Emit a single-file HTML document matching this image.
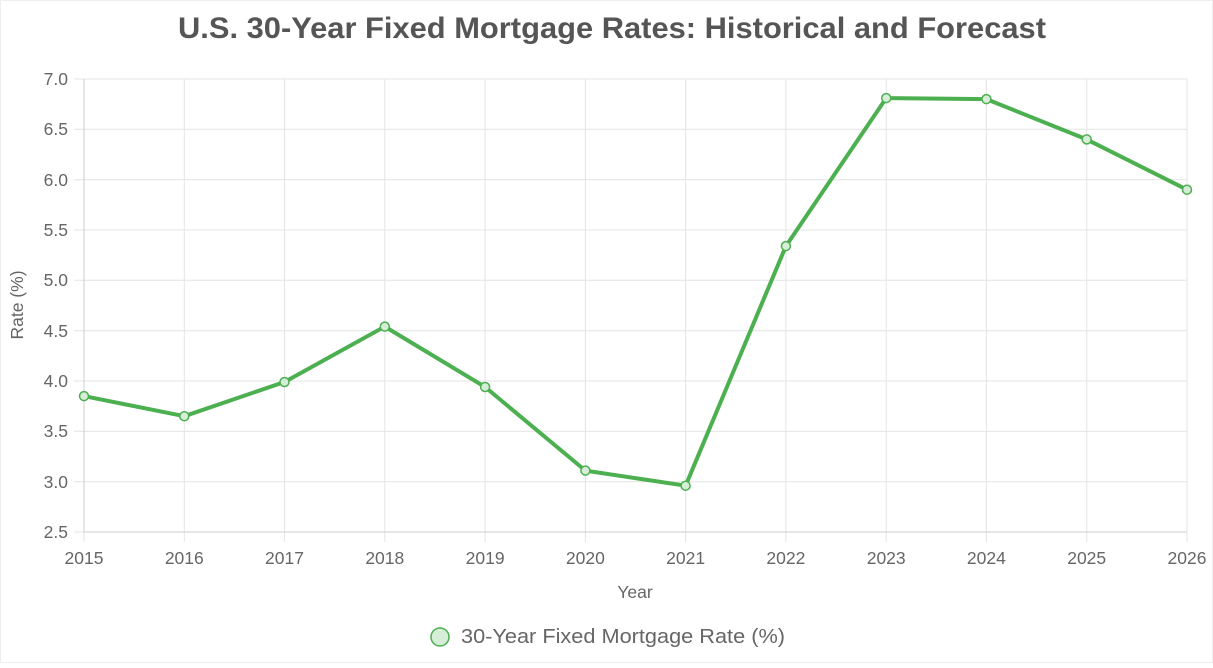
<!DOCTYPE html>
<html><head><style>
html,body{margin:0;padding:0;background:#fff;}
body{width:1213px;height:663px;overflow:hidden;font-family:"Liberation Sans",sans-serif;}
</style></head><body>
<svg width="1213" height="663" xmlns="http://www.w3.org/2000/svg" font-family="Liberation Sans, sans-serif">
<rect x="0.5" y="0.5" width="1212" height="662" fill="#fff" stroke="#eee"/>
<text x="612" y="38" text-anchor="middle" font-size="30" font-weight="bold" fill="#555" textLength="868" lengthAdjust="spacingAndGlyphs">U.S. 30-Year Fixed Mortgage Rates: Historical and Forecast</text>
<g stroke="#e4e4e4" stroke-width="1">
<line x1="74" x2="1187" y1="79" y2="79"/><line x1="74" x2="1187" y1="129.3" y2="129.3"/>
<line x1="74" x2="1187" y1="179.7" y2="179.7"/><line x1="74" x2="1187" y1="230" y2="230"/>
<line x1="74" x2="1187" y1="280.3" y2="280.3"/><line x1="74" x2="1187" y1="330.7" y2="330.7"/>
<line x1="74" x2="1187" y1="381" y2="381"/><line x1="74" x2="1187" y1="431.3" y2="431.3"/>
<line x1="74" x2="1187" y1="481.7" y2="481.7"/><line x1="74" x2="1187" y1="532" y2="532"/>
<line x1="84" x2="84" y1="79" y2="542"/><line x1="184.3" x2="184.3" y1="79" y2="542"/>
<line x1="284.5" x2="284.5" y1="79" y2="542"/><line x1="384.8" x2="384.8" y1="79" y2="542"/>
<line x1="485.1" x2="485.1" y1="79" y2="542"/><line x1="585.4" x2="585.4" y1="79" y2="542"/>
<line x1="685.6" x2="685.6" y1="79" y2="542"/><line x1="785.9" x2="785.9" y1="79" y2="542"/>
<line x1="886.2" x2="886.2" y1="79" y2="542"/><line x1="986.4" x2="986.4" y1="79" y2="542"/>
<line x1="1086.7" x2="1086.7" y1="79" y2="542"/><line x1="1187" x2="1187" y1="79" y2="542"/>
</g>
<line x1="84" x2="84" y1="79" y2="532" stroke="#ccc"/>
<line x1="84" x2="1187" y1="532" y2="532" stroke="#ccc"/>
<g font-size="17.5" fill="#666" text-anchor="end">
<text x="68" y="85">7.0</text><text x="68" y="135">6.5</text><text x="68" y="186">6.0</text>
<text x="68" y="236">5.5</text><text x="68" y="286">5.0</text><text x="68" y="337">4.5</text>
<text x="68" y="387">4.0</text><text x="68" y="437">3.5</text><text x="68" y="488">3.0</text>
<text x="68" y="538">2.5</text>
</g>
<g font-size="17.5" fill="#666" text-anchor="middle">
<text x="84" y="564">2015</text><text x="184.3" y="564">2016</text><text x="284.5" y="564">2017</text>
<text x="384.8" y="564">2018</text><text x="485.1" y="564">2019</text><text x="585.4" y="564">2020</text>
<text x="685.6" y="564">2021</text><text x="785.9" y="564">2022</text><text x="886.2" y="564">2023</text>
<text x="986.4" y="564">2024</text><text x="1086.7" y="564">2025</text><text x="1187" y="564">2026</text>
</g>
<text x="635" y="598" text-anchor="middle" font-size="17.5" fill="#666">Year</text>
<text transform="translate(23,305) rotate(-90)" text-anchor="middle" font-size="17.5" fill="#666">Rate (%)</text>
<polyline fill="none" stroke="#4caf50" stroke-width="4" stroke-linejoin="round" points="84,396.1 184.3,416.2 284.5,382 384.8,326.6 485.1,387 585.4,470.6 685.6,485.7 785.9,246.1 886.2,98.1 986.4,99.1 1086.7,139.4 1187,189.7"/>
<g fill="#d6eed7" stroke="#4caf50" stroke-width="1.5">
<circle cx="84" cy="396.1" r="4.5"/><circle cx="184.3" cy="416.2" r="4.5"/><circle cx="284.5" cy="382" r="4.5"/>
<circle cx="384.8" cy="326.6" r="4.5"/><circle cx="485.1" cy="387" r="4.5"/><circle cx="585.4" cy="470.6" r="4.5"/>
<circle cx="685.6" cy="485.7" r="4.5"/><circle cx="785.9" cy="246.1" r="4.5"/><circle cx="886.2" cy="98.1" r="4.5"/>
<circle cx="986.4" cy="99.1" r="4.5"/><circle cx="1086.7" cy="139.4" r="4.5"/><circle cx="1187" cy="189.7" r="4.5"/>
</g>
<circle cx="440" cy="637" r="9" fill="#d6eed7" stroke="#4caf50" stroke-width="1.5"/>
<text x="461" y="643" font-size="20" fill="#666" textLength="324" lengthAdjust="spacingAndGlyphs">30-Year Fixed Mortgage Rate (%)</text>
</svg>
</body></html>
